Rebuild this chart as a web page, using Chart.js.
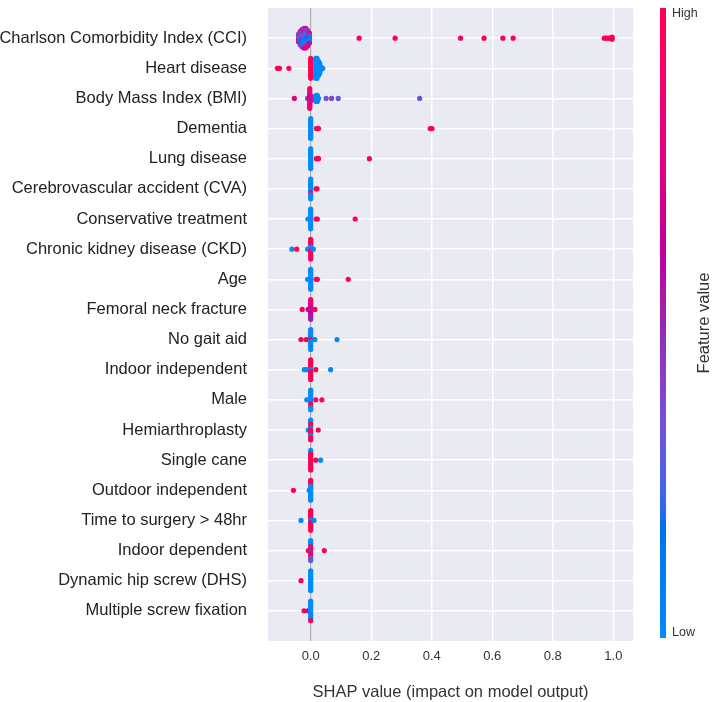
<!DOCTYPE html>
<html>
<head>
<meta charset="utf-8">
<script src="https://cdn.jsdelivr.net/npm/chart.js@4.4.1/dist/chart.umd.min.js"></script>
<style>
  html, body { margin: 0; padding: 0; background: #fff; }
  canvas { display: block; }
</style>
</head>
<body>
<canvas id="chart" width="712" height="702"></canvas>
<script>
// Features, top to bottom
const featureNames = [
  "Charlson Comorbidity Index (CCI)",
  "Heart disease",
  "Body Mass Index (BMI)",
  "Dementia",
  "Lung disease",
  "Cerebrovascular accident (CVA)",
  "Conservative treatment",
  "Chronic kidney disease (CKD)",
  "Age",
  "Femoral neck fracture",
  "No gait aid",
  "Indoor independent",
  "Male",
  "Hemiarthroplasty",
  "Single cane",
  "Outdoor independent",
  "Time to surgery > 48hr",
  "Indoor dependent",
  "Dynamic hip screw (DHS)",
  "Multiple screw fixation",
];

const xTicks = [0, 0.2, 0.4, 0.6, 0.8, 1.0];
const colorbarLabels = ["Low", "High"];

// Each row: [shap value, feature value (0 = low, 1 = high), count]
// points sharing a shap value are stacked top to bottom in listed order
const cci = [
  [-0.040, 0.45, 2], [-0.040, 0.3, 1], [-0.040, 0.5, 2],
  [-0.034, 0.6, 1], [-0.034, 0.4, 2], [-0.034, 0.3, 2], [-0.034, 0.1, 1], [-0.034, 0.45, 2],
  [-0.028, 0.75, 1], [-0.028, 0.4, 3], [-0.028, 0.25, 1], [-0.028, 0.45, 2], [-0.028, 0.1, 2], [-0.028, 0.35, 1],
  [-0.022, 0.4, 2], [-0.022, 0.65, 1], [-0.022, 0.35, 3], [-0.022, 0.1, 3], [-0.022, 0.05, 1], [-0.022, 0.7, 1],
  [-0.016, 0.8, 1], [-0.016, 0.4, 2], [-0.016, 0.3, 2], [-0.016, 0.05, 3], [-0.016, 0.0, 1], [-0.016, 0.45, 1], [-0.016, 0.75, 1],
  [-0.010, 0.45, 2], [-0.010, 0.3, 2], [-0.010, 0.6, 1], [-0.010, 0.05, 2], [-0.010, 0.4, 1], [-0.010, 0.8, 1],
  [-0.004, 0.85, 1], [-0.004, 0.4, 1], [-0.004, 0.1, 2], [-0.004, 0.0, 1], [-0.004, 0.55, 1],
  [0.160, 1, 1], [0.279, 1, 1], [0.495, 1, 1], [0.573, 1, 1], [0.635, 1, 1], [0.669, 1, 1],
  [0.970, 1, 1], [0.977, 1, 1], [0.984, 1, 1], [0.990, 1, 1], [0.996, 1, 2],
];
const heartDisease = [
  [-0.110, 1, 1], [-0.103, 1, 1], [-0.072, 1, 1],
  [0.000, 1, 11],
  [0.017, 0, 11], [0.021, 0, 11], [0.026, 0, 8], [0.030, 0, 6], [0.035, 0, 2], [0.040, 0, 1],
];
const bmi = [
  [-0.054, 0.75, 1], [-0.010, 0.45, 1],
  [-0.003, 1, 2], [-0.003, 0.85, 2], [-0.003, 0.6, 1], [-0.003, 0.75, 2], [-0.003, 0.45, 1], [-0.003, 0.8, 2], [-0.003, 0.9, 1],
  [0.002, 0.7, 1], [0.002, 0.5, 1], [0.002, 0.8, 1],
  [0.018, 0, 4], [0.022, 0, 4], [0.026, 0, 1],
  [0.051, 0.35, 1], [0.069, 0.4, 1], [0.091, 0.3, 1], [0.360, 0.3, 1],
];
const dementia = [
  [0.000, 0, 11], [0.019, 1, 1], [0.023, 1, 1], [0.026, 1, 1], [0.395, 1, 1], [0.401, 1, 1],
];
const lungDisease = [
  [0.000, 0, 11], [0.019, 1, 1], [0.023, 1, 1], [0.026, 1, 1], [0.194, 1, 1],
];
const cva = [
  [0.000, 0, 7], [0.000, 1, 1], [0.000, 0, 3], [0.018, 1, 1], [0.021, 1, 1],
];
const conservative = [
  [-0.009, 0, 1], [0.000, 0, 11], [0.018, 1, 1], [0.022, 1, 1], [0.147, 1, 1],
];
const ckd = [
  [-0.062, 0, 1], [-0.046, 1, 1], [-0.010, 0, 1],
  [0.000, 1, 3], [0.000, 0.8, 1], [0.000, 0, 2], [0.000, 1, 3], [0.000, 0.9, 2],
  [0.009, 0, 1],
];
const age = [
  [-0.010, 0, 1], [0.000, 0, 11], [0.018, 1, 1], [0.022, 1, 1], [0.124, 1, 1],
];
const femoralNeck = [
  [-0.028, 1, 1], [-0.008, 0.6, 1],
  [0.000, 1, 1], [0.000, 0.85, 2], [0.000, 0.7, 2], [0.000, 0.55, 2], [0.000, 0.65, 2], [0.000, 0.5, 2],
  [0.014, 1, 1],
];
const noGaitAid = [
  [-0.032, 1, 1], [-0.015, 1, 1], [-0.007, 1, 1],
  [0.000, 0, 5], [0.000, 1, 1], [0.000, 0, 5],
  [0.014, 0, 1], [0.087, 0, 1],
];
const indoorIndependent = [
  [-0.021, 0, 1], [-0.013, 0, 1],
  [0.000, 1, 5], [0.000, 0, 1], [0.000, 1, 5],
  [0.017, 1, 1], [0.066, 0, 1],
];
const male = [
  [-0.013, 0, 1], [0.000, 0, 7], [0.000, 1, 2], [0.000, 0, 2], [0.017, 1, 1], [0.037, 1, 1],
];
const hemiarthroplasty = [
  [-0.008, 0, 1],
  [0.000, 0, 2], [0.000, 1, 2], [0.000, 0, 1], [0.000, 1, 3], [0.000, 0, 1], [0.000, 1, 2],
  [0.025, 1, 1],
];
const singleCane = [
  [0.000, 0, 2], [0.000, 1, 4], [0.000, 0.9, 1], [0.000, 1, 4], [0.017, 1, 1], [0.033, 0, 1],
];
const outdoorIndependent = [
  [-0.057, 1, 1], [-0.005, 0.3, 1], [0.000, 1, 3], [0.000, 0, 8],
];
const timeToSurgery = [
  [-0.032, 0, 1], [0.000, 1, 5], [0.000, 0, 1], [0.000, 1, 5], [0.011, 0, 1],
];
const indoorDependent = [
  [-0.008, 1, 1],
  [0.000, 0, 3], [0.000, 1, 2], [0.000, 0.5, 2], [0.000, 1, 2], [0.000, 0.3, 2],
  [0.045, 1, 1],
];
const dhs = [
  [-0.032, 1, 1], [0.000, 0, 11],
];
const multipleScrew = [
  [-0.022, 1, 1], [-0.009, 0.7, 1], [0.000, 0, 10], [0.000, 1, 1],
];

const rows = [
  cci, heartDisease, bmi, dementia, lungDisease, cva, conservative, ckd, age, femoralNeck,
  noGaitAid, indoorIndependent, male, hemiarthroplasty, singleCane, outdoorIndependent,
  timeToSurgery, indoorDependent, dhs, multipleScrew,
];

const FONT = "'Liberation Sans', Arial, Helvetica, sans-serif";

// shap red_blue colormap: LCH blend blue -> dark purple -> red
function shapColor(v) {
  const L = v < 0.5 ? 54 - 28 * v : 40 + 28 * (v - 0.5);
  const C = 70 + 20 * v;
  const h = 4.6588 + v * (0.35470565 + 2 * Math.PI - 4.6588);
  const a = C * Math.cos(h), b = C * Math.sin(h);
  const fy = (L + 16) / 116, fx = fy + a / 500, fz = fy - b / 200;
  const f = (t) => (t > 0.206893 ? t * t * t : (t - 16 / 116) / 7.787);
  const X = 0.95047 * f(fx), Y = f(fy), Z = 1.08883 * f(fz);
  const lin = [
    3.2406 * X - 1.5372 * Y - 0.4986 * Z,
    -0.9689 * X + 1.8758 * Y + 0.0415 * Z,
    0.0557 * X - 0.204 * Y + 1.057 * Z,
  ];
  const rgb = lin.map((c) => {
    c = c <= 0.0031308 ? 12.92 * c : 1.055 * Math.pow(c, 1 / 2.4) - 0.055;
    return Math.round(255 * Math.min(1, Math.max(0, c)));
  });
  return `rgb(${rgb.join(",")})`;
}

// beeswarm-ish stacking: points with the same shap value are stacked vertically
const points = [];
const colors = [];
rows.forEach((groups, r) => {
  const counts = {};
  groups.forEach(([x, v, n]) => { counts[x] = (counts[x] || 0) + n; });
  const maxN = Math.max(...Object.values(counts));
  const step = 0.72 / maxN;
  const used = {};
  groups.forEach(([x, v, n]) => {
    for (let i = 0; i < n; i++) {
      const k = used[x] || 0;
      used[x] = k + 1;
      const off = ((counts[x] - 1) / 2 - k) * step;
      points.push({ x: x, y: featureNames.length - 1 - r + off });
      colors.push(shapColor(v));
    }
  });
});

const backgroundPlugin = {
  id: "bg",
  beforeDraw(chart) {
    const { ctx, chartArea: a } = chart;
    ctx.save();
    ctx.fillStyle = "#ffffff";
    ctx.fillRect(0, 0, chart.width, chart.height);
    ctx.fillStyle = "#eaeaf2";
    ctx.fillRect(a.left, a.top, a.right - a.left, a.bottom - a.top);
    ctx.restore();
  },
};

const zeroLinePlugin = {
  id: "zeroLine",
  beforeDatasetsDraw(chart) {
    const { ctx, chartArea: a, scales } = chart;
    const x0 = scales.x.getPixelForValue(0);
    ctx.save();
    ctx.strokeStyle = "#aaaaaa";
    ctx.lineWidth = 1.2;
    ctx.beginPath();
    ctx.moveTo(x0, a.top);
    ctx.lineTo(x0, a.bottom);
    ctx.stroke();
    ctx.restore();
  },
};

const colorbarPlugin = {
  id: "colorbar",
  afterDraw(chart) {
    const { ctx } = chart;
    const left = 660, width = 6, top = 8, bottom = 638;
    const grad = ctx.createLinearGradient(0, bottom, 0, top);
    for (let i = 0; i <= 40; i++) grad.addColorStop(i / 40, shapColor(i / 40));
    ctx.save();
    ctx.fillStyle = grad;
    ctx.fillRect(left, top, width, bottom - top);
    ctx.fillStyle = "#333333";
    ctx.font = `12.5px ${FONT}`;
    ctx.textAlign = "left";
    ctx.textBaseline = "middle";
    ctx.fillText(colorbarLabels[1], 672, 14);
    ctx.fillText(colorbarLabels[0], 672, 633);
    ctx.translate(704, 323);
    ctx.rotate(-Math.PI / 2);
    ctx.textAlign = "center";
    ctx.font = `16.5px ${FONT}`;
    ctx.fillText("Feature value", 0, 0);
    ctx.restore();
  },
};

new Chart(document.getElementById("chart"), {
  type: "scatter",
  data: {
    datasets: [
      {
        data: points,
        pointBackgroundColor: colors,
        pointRadius: 2.6,
        pointHoverRadius: 2.6,
        pointBorderWidth: 0,
      },
    ],
  },
  options: {
    responsive: false,
    animation: false,
    devicePixelRatio: 1,
    layout: { padding: { left: 0, right: 79, top: 8, bottom: 0 } },
    plugins: { legend: { display: false }, tooltip: { enabled: false } },
    scales: {
      x: {
        type: "linear",
        min: -0.141,
        max: 1.065,
        afterBuildTicks: (s) => { s.ticks = xTicks.map((v) => ({ value: v })); },
        afterFit: (s) => {
          s.height = 61;
          s.paddingLeft = 0;
          s.paddingRight = 0;
        },
        grid: { color: "#ffffff", lineWidth: 1.4, drawTicks: false },
        border: { display: false },
        ticks: {
          font: { family: FONT, size: 13 },
          color: "#333333",
          padding: 8,
          callback: (v) => Number(v).toFixed(1),
        },
        title: {
          display: true,
          text: "SHAP value (impact on model output)",
          font: { family: FONT, size: 16.5 },
          color: "#333333",
          padding: { top: 0, bottom: 0 },
        },
      },
      y: {
        type: "linear",
        min: -1,
        max: 20,
        afterBuildTicks: (s) => { s.ticks = featureNames.map((_, i) => ({ value: i })); },
        afterFit: (s) => {
          s.width = 268;
          s.paddingTop = 0;
          s.paddingBottom = 0;
        },
        grid: { color: "#ffffff", lineWidth: 1.4, drawTicks: false },
        border: { display: false },
        ticks: {
          autoSkip: false,
          font: { family: FONT, size: 16.5 },
          color: "#222222",
          padding: 21,
          callback: (v) => featureNames[featureNames.length - 1 - v],
        },
      },
    },
  },
  plugins: [backgroundPlugin, zeroLinePlugin, colorbarPlugin],
});
</script>
</body>
</html>
